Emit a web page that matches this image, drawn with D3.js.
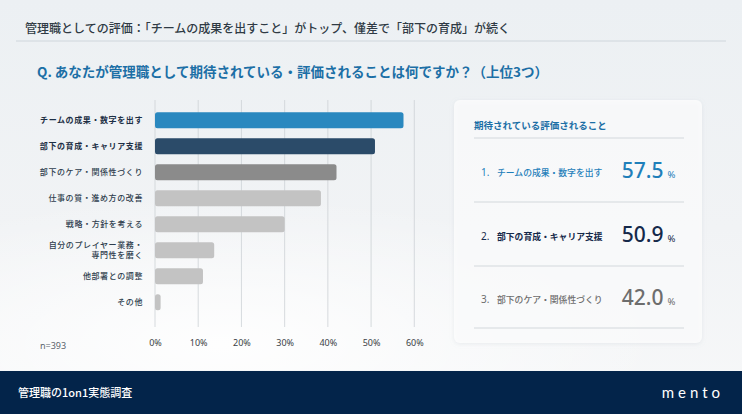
<!DOCTYPE html>
<html>
<head>
<meta charset="utf-8">
<script src="https://cdn.jsdelivr.net/npm/d3@7"></script>
<style>
  html, body { margin: 0; padding: 0; background: #eef2f5; }
  svg { display: block; font-family: "Noto Sans CJK JP", "Noto Sans", sans-serif; }
</style>
</head>
<body>
<div id="chart"></div>
<script>
// data
var categories = [
  'チームの成果・数字を出す',
  '部下の育成・キャリア支援',
  '部下のケア・関係性づくり',
  '仕事の質・進め方の改善',
  '戦略・方針を考える',
  '自分のプレイヤー業務・\n専門性を磨く',
  '他部署との調整',
  'その他'
];
var values = [57.5, 50.9, 42.0, 38.4, 30.0, 13.7, 11.1, 1.3];
var tickValues = [0, 10, 20, 30, 40, 50, 60];
var sampleLabel = 'n=393';
var title = '管理職としての評価：「チームの成果を出すこと」がトップ、僅差で「部下の育成」が続く';
var question = 'Q. あなたが管理職として期待されている・評価されることは何ですか？（上位3つ）';
var cardTitle = '期待されている評価されること';
var footerText = '管理職の1on1実態調査';

var W = 742, H = 414;

var svg = d3.select('#chart').append('svg')
  .attr('width', W).attr('height', H)
  .attr('viewBox', '0 0 ' + W + ' ' + H);

// background
var defs = svg.append('defs');
var bg = defs.append('linearGradient').attr('id', 'bg').attr('x1', 0).attr('y1', 0).attr('x2', 0).attr('y2', 1);
bg.append('stop').attr('offset', '0%').attr('stop-color', '#ecf0f3');
bg.append('stop').attr('offset', '55%').attr('stop-color', '#f1f3f5');
bg.append('stop').attr('offset', '100%').attr('stop-color', '#f7f8f9');
var snow = defs.append('radialGradient').attr('id', 'snow').attr('cx', 0.3).attr('cy', 0.9).attr('r', 0.6);
snow.append('stop').attr('offset', '0%').attr('stop-color', '#ffffff').attr('stop-opacity', 0.9);
snow.append('stop').attr('offset', '100%').attr('stop-color', '#ffffff').attr('stop-opacity', 0);
var shadow = defs.append('filter').attr('id', 'shadow').attr('x', '-10%').attr('y', '-10%').attr('width', '120%').attr('height', '120%');
shadow.append('feDropShadow').attr('dx', 0).attr('dy', 1).attr('stdDeviation', 2)
  .attr('flood-color', '#9aa6b2').attr('flood-opacity', 0.25);

svg.append('rect').attr('width', W).attr('height', H).attr('fill', 'url(#bg)');
svg.append('rect').attr('y', 120).attr('width', W).attr('height', 250).attr('fill', 'url(#snow)');

// header
svg.append('text')
  .attr('x', 25).attr('y', 33)
  .attr('fill', '#2f3a44')
  .style('font-size', '12px')
  .style('font-weight', 500)
  .text(title);
svg.append('line')
  .attr('x1', 16).attr('x2', 726).attr('y1', 41).attr('y2', 41)
  .attr('stroke', '#cfd6dc').attr('stroke-width', 1);
svg.append('text')
  .attr('x', 37).attr('y', 77)
  .attr('fill', '#1c6fa6')
  .style('font-size', '13.5px')
  .style('font-weight', 700)
  .text(question);

// bar chart
var x = d3.scaleLinear().domain([0, 60]).range([155, 414.3]);
var y = d3.scaleBand().domain(d3.range(categories.length))
  .range([107.3, 107.3 + 26 * categories.length])
  .paddingInner(0.385).paddingOuter(0.1925);

function barColor(i) {
  if (i === 0) return '#2a88bf';
  if (i === 1) return '#2b4b69';
  if (i === 2) return '#8b8b8b';
  return '#c3c3c3';
}

var grid = svg.append('g');
grid.selectAll('line').data(tickValues).enter().append('line')
  .attr('x1', function(d){ return x(d); })
  .attr('x2', function(d){ return x(d); })
  .attr('y1', 100).attr('y2', 327)
  .attr('stroke', '#cdd2d6').attr('stroke-width', 0.8);

var axis = d3.axisBottom(x).tickValues(tickValues)
  .tickFormat(function(d){ return d + '%'; })
  .tickSize(0).tickPadding(0);
var axisG = svg.append('g').attr('transform', 'translate(0,340)').call(axis);
axisG.select('.domain').remove();
axisG.selectAll('text')
  .attr('fill', '#3a3f45')
  .style('font-size', '9px')
  .style('font-family', '"Noto Sans", sans-serif');

svg.append('g').selectAll('rect').data(values).enter().append('rect')
  .attr('x', x(0))
  .attr('y', function(d, i){ return y(i); })
  .attr('width', function(d){ return x(d) - x(0); })
  .attr('height', y.bandwidth())
  .attr('rx', 2.5)
  .attr('fill', function(d, i){ return barColor(i); });

var labels = svg.append('g').selectAll('text').data(categories).enter().append('text')
  .attr('text-anchor', 'end')
  .attr('fill', function(d, i){ return i < 2 ? '#1d2f45' : '#2e3d4d'; })
  .style('font-size', '8px')
  .style('font-weight', function(d, i){ return i < 2 ? 700 : 500; })
  .style('letter-spacing', '0.6px');
labels.each(function(d, i){
  var lines = d.split('\n');
  var cy = y(i) + y.bandwidth() / 2;
  var lh = 10;
  d3.select(this).selectAll('tspan').data(lines).enter().append('tspan')
    .attr('x', 143)
    .attr('y', function(l, j){ return cy + 3 + (j - (lines.length - 1) / 2) * lh; })
    .text(function(l){ return l; });
});

svg.append('text')
  .attr('x', 40).attr('y', 349)
  .attr('fill', '#5a636c')
  .style('font-size', '9px')
  .style('font-family', '"Noto Sans", sans-serif')
  .text(sampleLabel);

// top 3 card
svg.append('rect')
  .attr('x', 454).attr('y', 100).attr('width', 248).attr('height', 243)
  .attr('rx', 6)
  .attr('fill', '#ffffff').attr('fill-opacity', 0.72)
  .attr('filter', 'url(#shadow)');

svg.append('text')
  .attr('x', 474).attr('y', 129)
  .attr('fill', '#1c6fa6')
  .style('font-size', '9.5px')
  .style('font-weight', 700)
  .text(cardTitle);

var rowBase = [178, 242, 305];
var sepY = [138, 202, 266, 328];
svg.append('g').selectAll('line').data(sepY).enter().append('line')
  .attr('x1', 474).attr('x2', 684)
  .attr('y1', function(d){ return d; }).attr('y2', function(d){ return d; })
  .attr('stroke', '#d3d8dc').attr('stroke-width', 1);

var rowColors = ['#1f7fba', '#15294a', '#6d6d6d'];
var rows = svg.append('g').selectAll('g').data(values.slice(0, 3)).enter().append('g')
  .attr('transform', function(d, i){ return 'translate(0,' + rowBase[i] + ')'; });
rows.append('text')
  .attr('x', 481).attr('y', -2)
  .attr('fill', function(d, i){ return rowColors[i]; })
  .style('font-size', '10px')
  .style('font-family', '"Noto Sans", sans-serif')
  .text(function(d, i){ return (i + 1) + '.'; });
rows.append('text')
  .attr('x', 497).attr('y', -2.5)
  .attr('fill', function(d, i){ return rowColors[i]; })
  .style('font-size', '8.8px')
  .style('font-weight', function(d, i){ return i === 1 ? 700 : 500; })
  .text(function(d, i){ return categories[i]; });
rows.append('text')
  .attr('x', 663.5).attr('y', 0)
  .attr('text-anchor', 'end')
  .attr('fill', function(d, i){ return rowColors[i]; })
  .style('font-size', '21px')
  .style('font-family', '"Noto Sans", sans-serif')
  .style('font-weight', 500)
  .text(function(d){ return d.toFixed(1); });
rows.append('text')
  .attr('x', 667.5).attr('y', 0)
  .attr('fill', function(d, i){ return rowColors[i]; })
  .style('font-size', '9.5px')
  .style('font-family', '"Noto Sans", sans-serif')
  .text('%');

// footer
svg.append('rect')
  .attr('x', 0).attr('y', 371).attr('width', W).attr('height', H - 371)
  .attr('fill', '#03244a');
svg.append('text')
  .attr('x', 18).attr('y', 397)
  .attr('fill', '#ffffff')
  .style('font-size', '11px')
  .style('font-weight', 500)
  .text(footerText);
svg.append('text')
  .attr('x', 724).attr('y', 398)
  .attr('text-anchor', 'end')
  .attr('fill', '#ffffff')
  .style('font-size', '15px')
  .style('font-family', 'Lato, "Noto Sans", sans-serif')
  .style('font-weight', 400)
  .style('letter-spacing', '4px')
  .text('mento');
</script>
</body>
</html>
